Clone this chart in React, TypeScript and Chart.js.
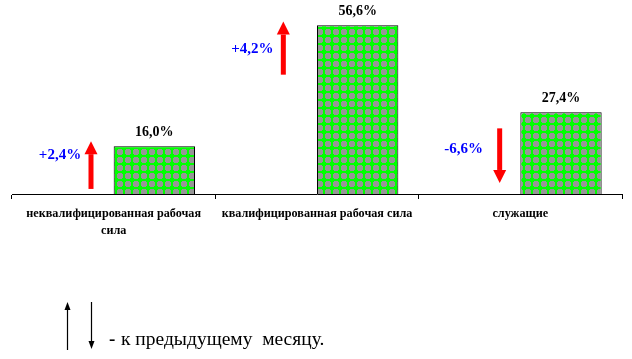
import React, { useEffect, useRef } from "react";
import { Chart, registerables } from "chart.js";

Chart.register(...registerables);

// ---- data ----
const categories: (string | string[])[] = [
  ["неквалифицированная рабочая", "сила"],
  "квалифицированная рабочая сила",
  "служащие",
];
const shares = [16.0, 56.6, 27.4];
const changes = [2.4, 4.2, -6.6];
const arrowFrom = [1.7, 40.0, 22.0];
const arrowTo = [17.7, 57.8, 3.7];
const legendText = "к предыдущему  месяцу.";

// ---- styling ----
const SERIF = "'Liberation Serif', 'Times New Roman', serif";
const arrowOffset = [18, 7, 20];
const changeLabelDx = [31, 31, 36];
const changeLabelDy = [-10, 1, -7];

const fmt = (v: number, sign = false) =>
  (sign && v > 0 ? "+" : "") + v.toFixed(1).replace(".", ",") + "%";

function makePattern(): CanvasPattern | string {
  const c = document.createElement("canvas");
  c.width = 8;
  c.height = 8;
  const g = c.getContext("2d");
  if (!g) return "#969696";
  g.fillStyle = "#969696";
  g.fillRect(0, 0, 8, 8);
  g.fillStyle = "#00FF00";
  for (let y = 0; y < 8; y++)
    for (let x = 0; x < 8; x++) {
      const dx = Math.abs(x + 0.5 - 4);
      const dy = Math.abs(y + 0.5 - 4);
      if (dx + dy <= 3.5 || (Math.min(dx, dy) === 0.5 && Math.max(dx, dy) === 3.5))
        g.fillRect(x, y, 1, 1);
    }
  return g.createPattern(c, "repeat") || "#969696";
}

function drawArrow(
  ctx: CanvasRenderingContext2D,
  x: number,
  yFrom: number,
  yTo: number,
  shaftW: number,
  headW: number,
  headL: number,
  color: string
) {
  const dir = yTo < yFrom ? -1 : 1;
  const yHeadBase = yTo - dir * headL;
  ctx.fillStyle = color;
  ctx.fillRect(
    x - shaftW / 2,
    Math.min(yFrom, yHeadBase),
    shaftW,
    Math.abs(yHeadBase - yFrom)
  );
  ctx.beginPath();
  ctx.moveTo(x - headW / 2, yHeadBase);
  ctx.lineTo(x + headW / 2, yHeadBase);
  ctx.lineTo(x, yTo);
  ctx.closePath();
  ctx.fill();
}

const overlayPlugin = {
  id: "overlay",
  afterDatasetsDraw(chart: any) {
    const ctx: CanvasRenderingContext2D = chart.ctx;
    const yScale = chart.scales.y;
    const metaBars = chart.getDatasetMeta(1);
    const metaArrows = chart.getDatasetMeta(0);
    ctx.save();
    ctx.textAlign = "center";
    ctx.textBaseline = "middle";
    // value labels
    ctx.font = `bold 14px ${SERIF}`;
    ctx.fillStyle = "#000000";
    metaBars.data.forEach((el: any, i: number) => {
      ctx.fillText(fmt(shares[i]), el.x, el.y - 14);
    });
    // change arrows + labels
    metaArrows.data.forEach((el: any, i: number) => {
      const x = el.x + arrowOffset[i];
      const y1 = yScale.getPixelForValue(arrowFrom[i]);
      const y2 = yScale.getPixelForValue(arrowTo[i]);
      drawArrow(ctx, x, y1, y2, 5, 13, 13, "#FF0000");
      ctx.font = `bold 15px ${SERIF}`;
      ctx.fillStyle = "#0000FF";
      ctx.fillText(
        fmt(changes[i], true),
        x - changeLabelDx[i],
        (y1 + y2) / 2 + changeLabelDy[i]
      );
    });
    // legend below
    drawArrow(ctx, 67.5, 350, 302, 1.2, 6, 8, "#000000");
    drawArrow(ctx, 91.5, 302, 349, 1.2, 6, 8, "#000000");
    ctx.textAlign = "left";
    ctx.fillStyle = "#000000";
    ctx.font = `bold 19px ${SERIF}`;
    ctx.fillText("-", 109, 340);
    ctx.font = `19.5px ${SERIF}`;
    ctx.fillText(legendText, 121, 340);
    ctx.restore();
  },
};

export default function App() {
  const ref = useRef<HTMLCanvasElement>(null);
  useEffect(() => {
    document.body.style.margin = "0";
    const canvas = ref.current;
    if (!canvas) return;
    const pattern = makePattern();
    const chart = new Chart(canvas, {
      type: "bar",
      data: {
        labels: categories,
        datasets: [
          {
            label: "change",
            data: arrowFrom.map((f, i) => [f, arrowTo[i]]) as any,
            backgroundColor: "rgba(0,0,0,0)",
            borderWidth: 0,
            categoryPercentage: 0.8,
            barPercentage: 1.0,
          },
          {
            label: "share",
            data: shares,
            backgroundColor: pattern as any,
            borderColor: "#000000",
            borderWidth: 1,
            categoryPercentage: 0.8,
            barPercentage: 1.0,
          },
        ],
      },
      options: {
        responsive: false,
        animation: false,
        devicePixelRatio: 1,
        layout: { padding: { top: 15, left: 12, right: 10, bottom: 114 } },
        plugins: {
          legend: { display: false },
          tooltip: { enabled: false },
          title: { display: false },
        },
        scales: {
          x: {
            grid: {
              display: true,
              drawOnChartArea: false,
              offset: true,
              color: "#000000",
              tickColor: "#000000",
              tickLength: 5,
            },
            border: { display: true, color: "#000000", width: 1 },
            ticks: {
              color: "#000000",
              font: { family: SERIF, size: 12.2, weight: "bold", lineHeight: "17px" } as any,
              padding: 6,
              maxRotation: 0,
              autoSkip: false,
            },
          },
          y: { display: false, min: 0, max: 60 },
        },
      },
      plugins: [overlayPlugin],
    });
    return () => chart.destroy();
  }, []);
  return (
    <div style={{ width: 632, height: 359 }}>
      <canvas ref={ref} width={632} height={359} />
    </div>
  );
}
